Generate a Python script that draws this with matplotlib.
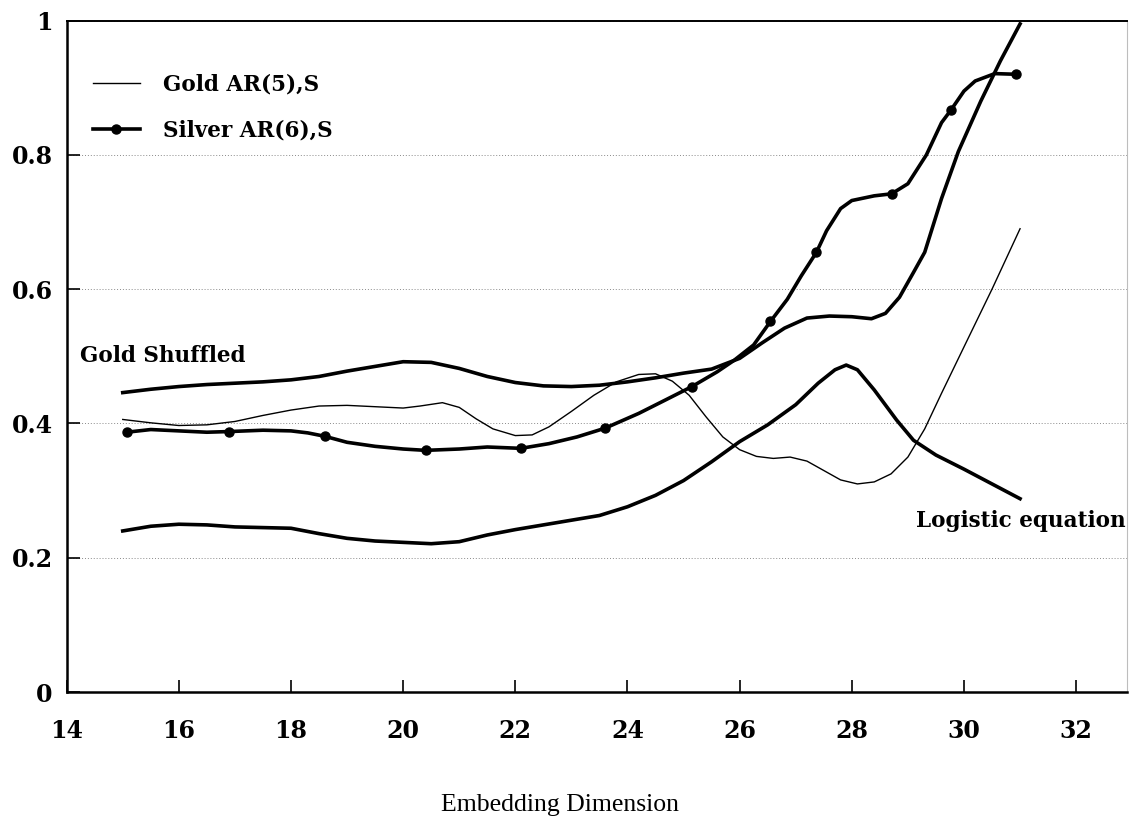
import matplotlib
matplotlib.use("Agg")
import matplotlib.pyplot as plt

# Gold AR(5),S  (thin line)
gold_ar_x = [15.0, 15.5, 16.0, 16.5, 17.0, 17.5, 18.0, 18.5, 19.0, 19.5, 20.0, 20.3,
             20.7, 21.0, 21.3, 21.6, 22.0, 22.3, 22.6, 23.0, 23.4, 23.8, 24.2, 24.5,
             24.8, 25.1, 25.4, 25.7, 26.0, 26.3, 26.6, 26.9, 27.2, 27.5, 27.8, 28.1,
             28.4, 28.7, 29.0, 29.3, 29.6, 30.0, 30.5, 31.0]
gold_ar_y = [0.406, 0.401, 0.397, 0.398, 0.403, 0.412, 0.420, 0.426, 0.427, 0.425, 0.423, 0.426,
             0.431, 0.424, 0.407, 0.392, 0.382, 0.383, 0.395, 0.418, 0.442, 0.462, 0.473, 0.474,
             0.463, 0.442, 0.410, 0.380, 0.361, 0.351, 0.348, 0.350, 0.344, 0.330, 0.316, 0.310,
             0.313, 0.325, 0.350, 0.392, 0.445, 0.514, 0.600, 0.690]

# Silver AR(6),S  (thick line with dots)
silver_x = [15.07, 15.5, 16.0, 16.5, 16.9, 17.5, 18.0, 18.3, 18.6, 19.0, 19.5, 20.0,
            20.4, 21.0, 21.5, 22.1, 22.6, 23.1, 23.6, 24.2, 24.7, 25.15, 25.6, 25.9,
            26.25, 26.55, 26.85, 27.1, 27.37, 27.55, 27.8, 28.0, 28.4, 28.71, 29.0, 29.33,
            29.6, 29.77, 30.0, 30.2, 30.55, 30.93]
silver_y = [0.387, 0.391, 0.389, 0.387, 0.388, 0.390, 0.389, 0.386, 0.381, 0.372, 0.366, 0.362,
            0.360, 0.362, 0.365, 0.363, 0.370, 0.380, 0.393, 0.415, 0.436, 0.455, 0.477, 0.494,
            0.517, 0.552, 0.585, 0.620, 0.655, 0.687, 0.720, 0.732, 0.739, 0.742, 0.757, 0.800,
            0.848, 0.867, 0.895, 0.910, 0.921, 0.920]
silver_marker_idx = [0, 4, 8, 12, 15, 18, 21, 25, 28, 33, 37, 41]

# Gold Shuffled
shuf_x = [15.0, 15.5, 16.0, 16.5, 17.0, 17.5, 18.0, 18.5, 19.0, 19.5, 20.0, 20.5,
          21.0, 21.5, 22.0, 22.5, 23.0, 23.5, 24.0, 24.5, 25.0, 25.5, 26.0, 26.4,
          26.8, 27.2, 27.6, 28.0, 28.35, 28.6, 28.85, 29.1, 29.3, 29.6, 29.9, 30.3,
          30.65, 31.0]
shuf_y = [0.446, 0.451, 0.455, 0.458, 0.460, 0.462, 0.465, 0.470, 0.478, 0.485, 0.492, 0.491,
          0.482, 0.470, 0.461, 0.456, 0.455, 0.457, 0.462, 0.468, 0.475, 0.481, 0.497, 0.520,
          0.542, 0.557, 0.560, 0.559, 0.556, 0.564, 0.588, 0.625, 0.655, 0.735, 0.805, 0.880,
          0.940, 0.995]

# Logistic equation
logi_x = [15.0, 15.5, 16.0, 16.5, 17.0, 17.5, 18.0, 18.5, 19.0, 19.5, 20.0, 20.5,
          21.0, 21.5, 22.0, 22.5, 23.0, 23.5, 24.0, 24.5, 25.0, 25.5, 26.0, 26.5,
          27.0, 27.4, 27.7, 27.9, 28.1, 28.4, 28.8, 29.1, 29.5, 30.0, 30.5, 31.0]
logi_y = [0.240, 0.247, 0.250, 0.249, 0.246, 0.245, 0.244, 0.236, 0.229, 0.225, 0.223, 0.221,
          0.224, 0.234, 0.242, 0.249, 0.256, 0.263, 0.276, 0.293, 0.315, 0.343, 0.373, 0.398,
          0.428, 0.460, 0.480, 0.487, 0.480, 0.450, 0.405, 0.375, 0.353, 0.332, 0.310, 0.288]

x_ticks = [14, 16, 18, 20, 22, 24, 26, 28, 30, 32]
y_ticks = [0, 0.2, 0.4, 0.6, 0.8, 1.0]
y_labels = ["0", "0.2", "0.4", "0.6", "0.8", "1"]

BOLD = dict(family="DejaVu Serif", weight="bold")
LBL = 15.5

fig = plt.figure(figsize=(11.30, 8.22), dpi=100)
ax = fig.add_axes([0.059, 0.158, 0.938, 0.817])

ax.plot(gold_ar_x, gold_ar_y, color="black", lw=1.0, label="Gold AR(5),S",
        solid_joinstyle="round")
ax.plot(silver_x, silver_y, color="black", lw=2.6, marker="o", ms=6.5,
        markevery=silver_marker_idx, label="Silver AR(6),S", solid_joinstyle="round")
ax.plot(shuf_x, shuf_y, color="black", lw=2.6, solid_joinstyle="round")
ax.plot(logi_x, logi_y, color="black", lw=2.6, solid_joinstyle="round")

ax.set_xlim(14, 32.9)
ax.set_ylim(0, 1)
ax.set_xticks(x_ticks)
ax.set_xticklabels([str(v) for v in x_ticks], fontsize=17, **BOLD)
ax.set_yticks(y_ticks)
ax.set_yticklabels(y_labels, fontsize=17, **BOLD)
ax.tick_params(axis="x", direction="in", length=9, width=1.2, pad=19)
ax.tick_params(axis="y", direction="in", length=9, width=1.2, pad=10)

ax.yaxis.grid(True, linestyle=(0, (1, 2)), color="#8a8a8a", lw=0.7)
ax.set_axisbelow(True)

for s in ["left", "bottom"]:
    ax.spines[s].set_linewidth(1.8)
ax.spines["top"].set_linewidth(1.4)
ax.spines["right"].set_color("#bdbdbd")
ax.spines["right"].set_linewidth(0.8)

# labels on the curves
ax.text(14.23, 0.50, "Gold Shuffled", fontsize=LBL, ha="left", va="center", **BOLD)
ax.text(32.88, 0.255, "Logistic equation", fontsize=LBL, ha="right", va="center", **BOLD)

leg = ax.legend(loc="upper left", bbox_to_anchor=(0.0145, 0.937), frameon=False,
                handlelength=2.2, handletextpad=1.05, labelspacing=1.1, borderpad=0,
                prop=dict(family="DejaVu Serif", weight="bold", size=LBL))

fig.text(0.4956, 0.021, "Embedding Dimension", fontsize=18.5, family="Liberation Serif",
         ha="center", va="center")

fig.savefig("out.png", dpi=100)
